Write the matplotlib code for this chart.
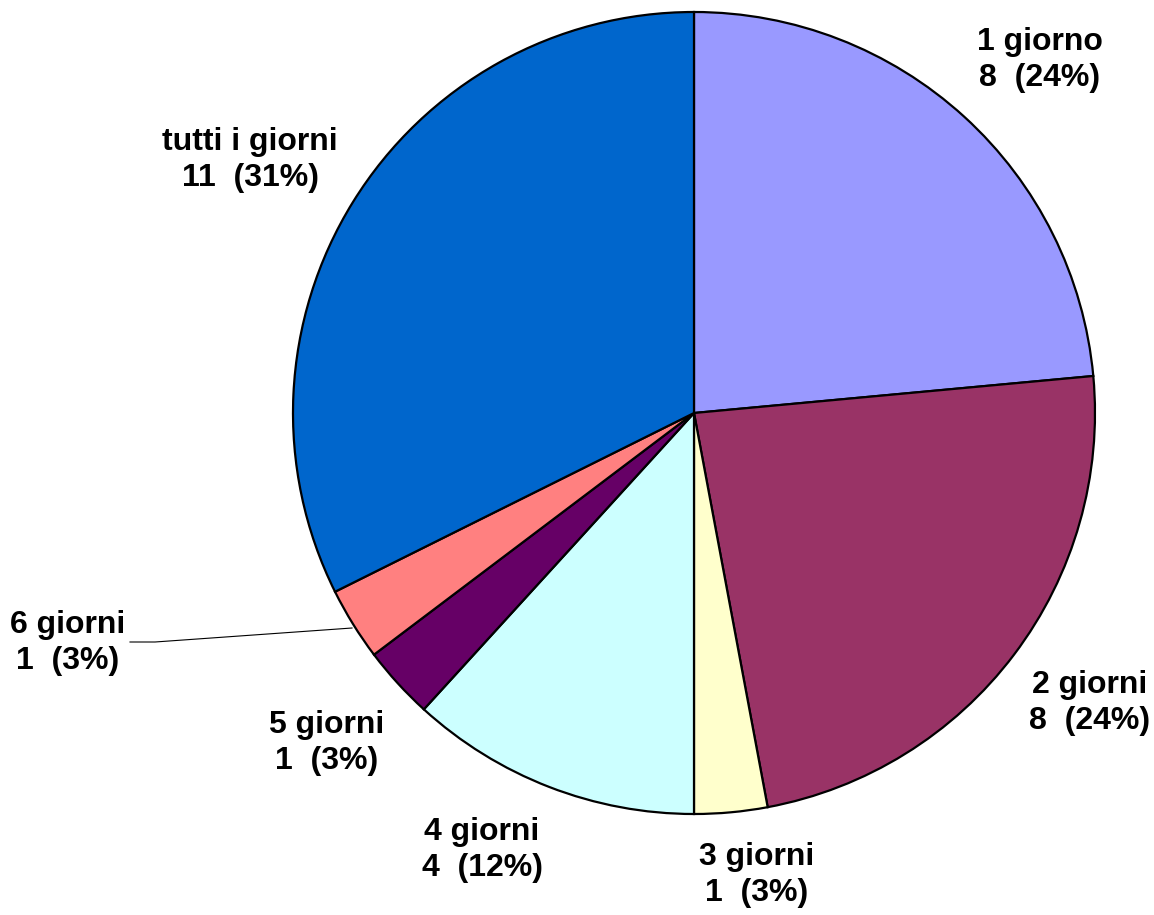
import matplotlib
matplotlib.use("Agg")
import matplotlib.pyplot as plt

labels = ["1 giorno", "2 giorni", "3 giorni", "4 giorni", "5 giorni", "6 giorni", "tutti i giorni"]
counts = [8, 8, 1, 4, 1, 1, 11]
pct_text = ["24%", "24%", "3%", "12%", "3%", "3%", "31%"]
colors = ["#9999FF", "#993366", "#FFFFCC", "#CCFFFF", "#660066", "#FF8080", "#0066CC"]

# label centres in pixel coords (origin top-left)
label_pos = [(1040, 60), (1090, 703), (757, 875), (482, 850), (327, 743), (68, 643), (250, 160)]

W, H = 1154, 915
fig = plt.figure(figsize=(W / 100, H / 100), dpi=100)
ax = fig.add_axes([0, 0, 1, 1])

cx, cy, r = 694, H - 413, 401
ax.pie(counts, colors=colors, startangle=90, counterclock=False,
       center=(cx, cy), radius=r, frame=True,
       wedgeprops=dict(edgecolor="black", linewidth=1.6))
ax.set_xlim(0, W)
ax.set_ylim(0, H)
ax.set_aspect("equal")
ax.axis("off")

for lab, n, p, (x, y) in zip(labels, counts, pct_text, label_pos):
    ax.text(x, H - y, f"{lab}\n{n}  ({p})", ha="center", va="center",
            fontsize=23, fontweight="bold", family="Liberation Sans",
            linespacing=1.22)

# leader line for 6 giorni
ax.plot([130, 155, 352], [H - 642, H - 642, H - 628], color="black", lw=0.8)

fig.savefig("out.png", dpi=100)
